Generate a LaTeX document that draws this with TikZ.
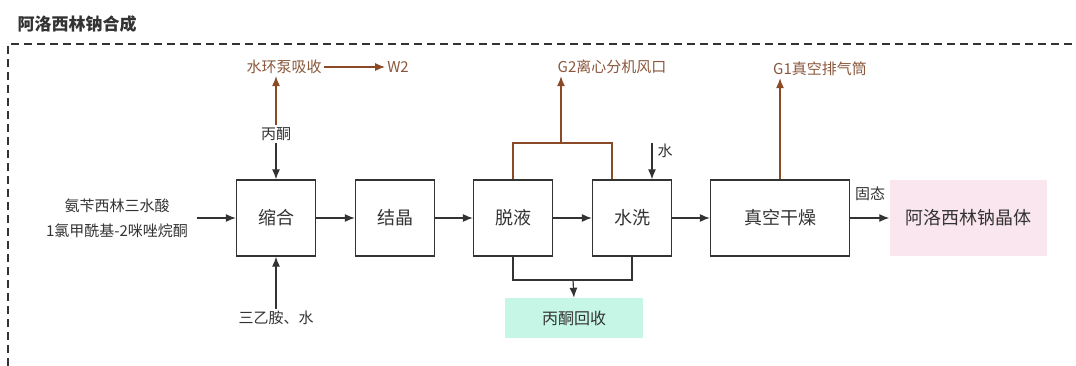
\documentclass[tikz,border=0pt]{standalone}
\usepackage{fontspec}
\setmainfont{Liberation Serif}
\newfontfamily\cjk{Noto Sans CJK SC}
\usetikzlibrary{arrows.meta}
\definecolor{ln}{HTML}{333333}
\definecolor{brn}{HTML}{8B4A26}
\definecolor{brntxt}{HTML}{8A573C}
\definecolor{pinkf}{HTML}{FAE6EE}
\definecolor{mintf}{HTML}{C6F6E6}
\begin{document}
\begin{tikzpicture}[x=1pt,y=-1pt,
  box/.style={draw=ln,line width=1.3pt,minimum width=79pt,minimum height=76pt,inner sep=0pt,font=\cjk\fontsize{18}{18}\selectfont,text=ln},
  lbl/.style={font=\cjk\fontsize{15}{25}\selectfont,text=ln,inner sep=2pt},
  blbl/.style={font=\cjk\fontsize{15}{17}\selectfont,text=brntxt,inner sep=2pt},
  arr/.style={draw=ln,line width=1.2pt,-{Latex[length=10pt,width=8pt]}},
  barr/.style={draw=brn,line width=1.2pt,-{Latex[length=10pt,width=8pt]}},
  bline/.style={draw=brn,line width=1.2pt},
  pline/.style={draw=ln,line width=1.2pt},
  frame/.style={draw=ln,line width=1.3pt,dash pattern=on 8pt off 5pt}]
\useasboundingbox (0,0) rectangle (1076,366);
% title and frame
\node[font=\cjk\fontsize{17}{17}\selectfont\bfseries,text=ln] (title) at (77,24) {阿洛西林钠合成};
\coordinate (fa) at (8,366);
\coordinate (fb) at (8,44);
\coordinate (fc) at (1076,44);
\draw[frame] (fa) -- (fb) -- (fc);
% main boxes
\node[box] (hs) at (276,218) {缩合};
\node[box] (jj) at (395,218) {结晶};
\node[box] (tl) at (513,218) {脱液};
\node[box] (sx) at (632,218) {水洗};
\node[box,minimum width=139pt] (zk) at (780,218) {真空干燥};
\node[fill=pinkf,minimum width=157pt,minimum height=75pt,inner sep=0pt,font=\cjk\fontsize{18}{18}\selectfont,text=ln] (cp) at (968,218) {阿洛西林钠晶体};
\node[fill=mintf,minimum width=138pt,minimum height=40pt,inner sep=0pt,font=\cjk\fontsize{16}{16}\selectfont,text=ln] (bh) at (574,318) {丙酮回收};
% labels
\node[lbl,align=center] (inA) at (117,218) {氨苄西林三水酸\\1氯甲酰基-2咪唑烷酮};
\node[lbl] (bt) at (276,134) {丙酮};
\node[lbl] (sy) at (276,318) {三乙胺、水};
\node[blbl] (sh) at (284,67) {水环泵吸收};
\node[blbl] (w2) at (398,67) {W2};
\node[blbl] (g2) at (612,67) {G2离心分机风口};
\node[blbl] (g1) at (820,69) {G1真空排气筒};
\node[lbl] (sw) at (665,151) {水};
\node[lbl] (gt) at (870,194) {固态};
% connectors
\coordinate (ia) at (197,218);
\draw[arr] (ia) -- (hs.west);
\draw[arr] (bt.south) -- (hs.north);
\draw[arr] (sy.north) -- (hs.south);
\draw[barr] (bt.north) -- (bt.north |- sh.south);
\draw[barr] (sh.east) -- (w2.west);
\draw[arr] (hs.east) -- (jj.west);
\draw[arr] (jj.east) -- (tl.west);
\draw[arr] (tl.east) -- (sx.west);
\draw[arr] (sx.east) -- (zk.west);
\draw[arr] (zk.east) -- (cp.west);
% G2 bracket
\coordinate (g2b) at (561,143);
\draw[bline] (tl.north) |- ([xshift=-20pt]sx.north |- g2b) -- ([xshift=-20pt]sx.north);
\draw[barr] (g2b) -- (g2b |- g2.south);
% water input
\coordinate (wt) at (652,143);
\draw[arr] (wt) -- ([xshift=20pt]sx.north);
% G1
\draw[barr] (zk.north) -- (zk.north |- g1.south);
% bottom collection
\coordinate (bj) at (573,280);
\draw[pline] (tl.south) |- (sx.south |- bj) -- (sx.south);
\draw[arr] (bj) -- (bh.north);
\end{tikzpicture}
\end{document}
